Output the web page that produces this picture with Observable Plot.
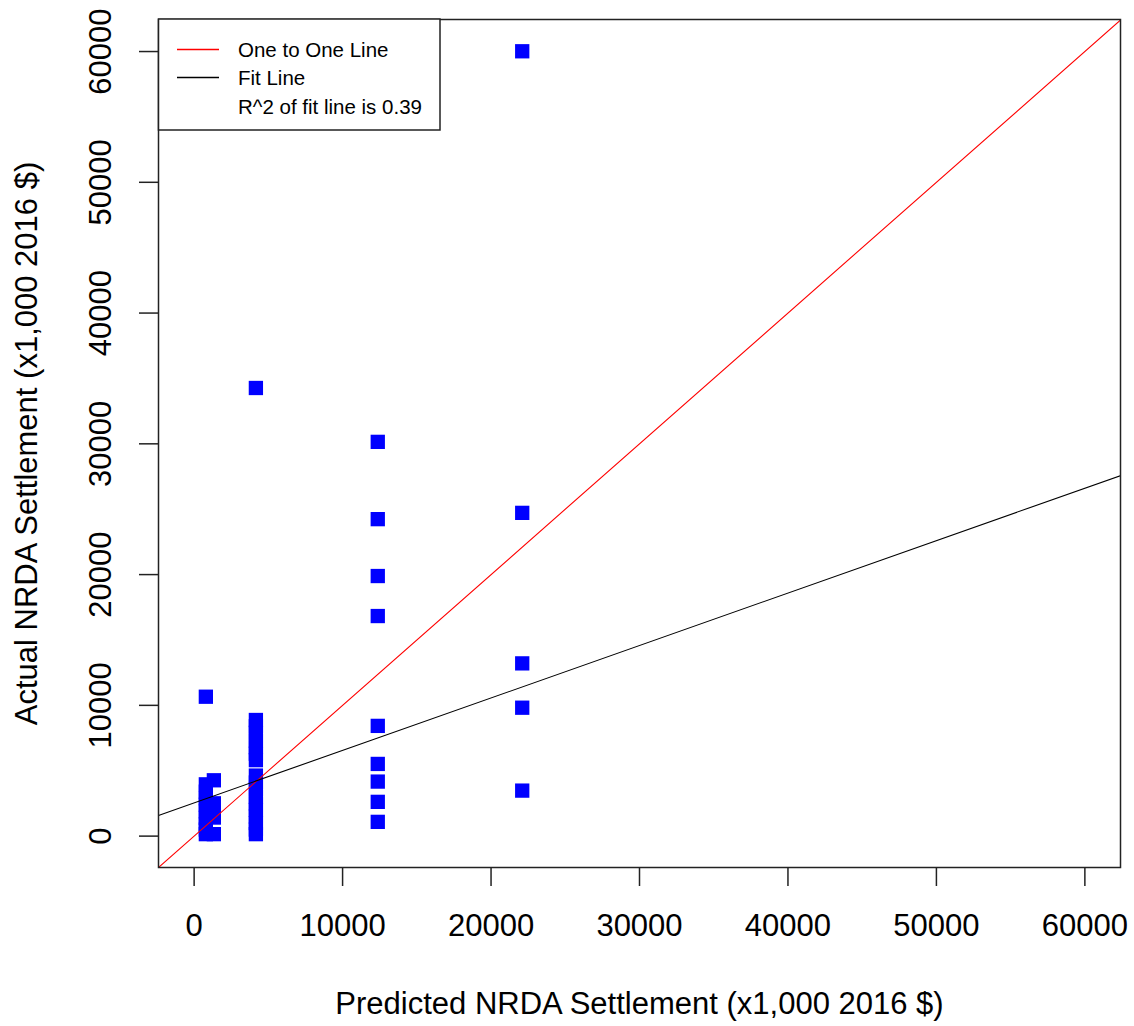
<!DOCTYPE html>
<html>
<head>
<meta charset="utf-8">
<script src="https://cdn.jsdelivr.net/npm/d3@7"></script>
<script src="https://cdn.jsdelivr.net/npm/@observablehq/plot@0.6"></script>
<style>
  html, body { margin: 0; padding: 0; background: #fff; }
  #chart { width: 1134px; height: 1026px; }
  svg { font-family: "Liberation Sans", Arial, sans-serif; }
</style>
</head>
<body>
<div id="chart"></div>
<script>
// ---- Data ----
const predictedA = 790,   actualA = [10660, 3960, 3400, 2900, 2400, 1900, 1400, 900, 500, 150];
const predictedB = 1330,  actualB = [4270, 2510, 2000, 1420, 150];
const predictedC = 4160,  actualC = [34270, 8880, 8400, 7900, 7300, 6800, 6300, 5810, 4630, 4100, 3600, 3000, 2500, 2000, 1500, 1000, 500, 150];
const predictedD = 12370, actualD = [30150, 24240, 19890, 16830, 8430, 5520, 4170, 2620, 1090];
const predictedE = 22100, actualE = [60020, 24720, 13210, 9820, 3480];

const xTicks = [0, 10000, 20000, 30000, 40000, 50000, 60000];
const yTicks = [0, 10000, 20000, 30000, 40000, 50000, 60000];
const xDomain = [-2400, 62400];
const yDomain = [-2400, 62450];

const fitIntercept = 2546;
const fitSlope = 0.401;
const rSquared = 0.39;

const legendLabels = ["One to One Line", "Fit Line", `R^2 of fit line is ${rSquared}`];
const xTitle = "Predicted NRDA Settlement (x1,000 2016 $)";
const yTitle = "Actual NRDA Settlement (x1,000 2016 $)";

// ---- Build tables ----
const groups = [
  [predictedA, actualA], [predictedB, actualB], [predictedC, actualC],
  [predictedD, actualD], [predictedE, actualE]
];
const points = groups.flatMap(([p, arr]) => arr.map(a => ({predicted: p, actual: a})));
const oneToOne = xDomain.map(v => ({x: v, y: v}));
const fitLine = xDomain.map(v => ({x: v, y: fitIntercept + fitSlope * v}));

const FONT = 31;
const plot = Plot.plot({
  width: 1134,
  height: 1026,
  marginTop: 19,
  marginRight: 14,
  marginBottom: 159,
  marginLeft: 158,
  style: {fontFamily: '"Liberation Sans", Arial, sans-serif', background: "#fff", color: "#000"},
  x: {domain: xDomain, axis: null},
  y: {domain: yDomain, axis: null},
  marks: [
    Plot.dot(points, {x: "predicted", y: "actual", symbol: "square", r: 8.07, fill: "#0000FF", stroke: "none"}),
    Plot.line(oneToOne, {x: "x", y: "y", stroke: "#FF0000", strokeWidth: 1.1, clip: true}),
    Plot.line(fitLine, {x: "x", y: "y", stroke: "#000", strokeWidth: 1.1, clip: true}),
    Plot.frame({stroke: "#222", strokeWidth: 1.5}),
    // x axis
    Plot.axisX(xTicks, {anchor: "bottom", tickSize: 19, tickFormat: () => "", stroke: "#222", strokeWidth: 1.5}),
    Plot.text(xTicks, {x: d => d, frameAnchor: "bottom", dy: 59, text: d => String(d), fontSize: FONT, fill: "#000", lineAnchor: "middle", textAnchor: "middle"}),
    // y axis
    Plot.axisY(yTicks, {anchor: "left", tickSize: 19, tickFormat: () => "", stroke: "#222", strokeWidth: 1.5}),
    Plot.text(yTicks, {y: d => d, frameAnchor: "left", dx: -57, rotate: -90, text: d => String(d), fontSize: FONT, fill: "#000", lineAnchor: "middle", textAnchor: "middle"}),
    // axis titles
    Plot.text([xTitle], {frameAnchor: "bottom", dy: 137, text: d => d, fontSize: FONT, fill: "#000", lineAnchor: "middle", textAnchor: "middle"}),
    Plot.text([yTitle], {frameAnchor: "left", dx: -131.5, rotate: -90, text: d => d, fontSize: FONT, fill: "#000", lineAnchor: "middle", textAnchor: "middle"})
  ]
});

document.getElementById("chart").appendChild(plot);

// ---- Legend (inside the plot, top-left) ----
const svg = d3.select(plot);
const lg = svg.append("g").attr("class", "legend").attr("text-anchor", "start");
lg.append("rect")
  .attr("x", 158.5).attr("y", 19).attr("width", 281.5).attr("height", 111)
  .attr("fill", "#fff").attr("stroke", "#222").attr("stroke-width", 1.5);
const legendColors = ["#FF0000", "#000", null];
const rowY = [49.5, 77.5, 106.5];
legendLabels.forEach((lab, i) => {
  if (legendColors[i]) {
    lg.append("line").attr("x1", 177).attr("x2", 219).attr("y1", rowY[i]).attr("y2", rowY[i])
      .attr("stroke", legendColors[i]).attr("stroke-width", 1.3);
  }
  lg.append("text").attr("x", 238).attr("y", rowY[i]).attr("dy", "0.36em")
    .attr("text-anchor", "start")
    .attr("font-size", 20.5).attr("fill", "#000")
    .attr("font-family", '"Liberation Sans", Arial, sans-serif')
    .text(lab);
});
</script>
</body>
</html>
